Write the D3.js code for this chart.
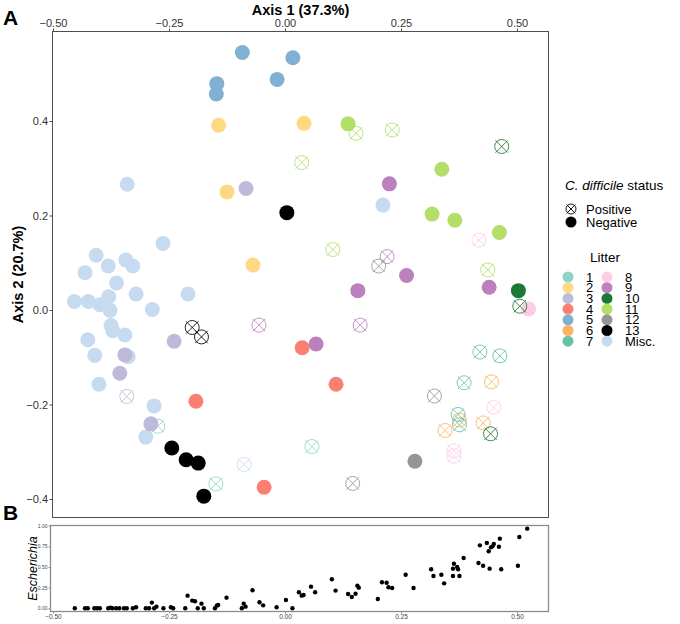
<!DOCTYPE html>
<html><head><meta charset="utf-8">
<script src="https://cdn.jsdelivr.net/npm/d3@7"></script>
<style>
body{margin:0;background:#fff}
svg{display:block}
text{font-family:"Liberation Sans",Arial,Helvetica,sans-serif}
</style>
</head><body>
<svg id="c" width="680" height="624"></svg>
<script>
// ---------- data ----------
const litterLevels = ["1","2","3","4","5","6","7","8","9","10","11","12","13","Misc."];
const litterColors = ["#8dd3c7","#fed883","#bebada","#fb8072","#80b1d3","#fdb462","#66c2a5",
                      "#fccde5","#bc80bd","#1b7837","#b3de69","#969696","#000000","#c6dbef"];
const statusLevels = ["Positive","Negative"];

const xTicks = [-0.5,-0.25,0,0.25,0.5];
const yTicksA = [-0.4,-0.2,0,0.2,0.4];
const yTicksB = [0,0.25,0.5,0.75,1];

const pcoaLitter = [
 "Misc.","Misc.","Misc.","Misc.","Misc.","Misc.","Misc.","Misc.","Misc.","Misc.",
 "Misc.","Misc.","Misc.","Misc.","Misc.","Misc.","Misc.","Misc.","Misc.","Misc.",
 "Misc.","Misc.","Misc.","Misc.","Misc.","Misc.","Misc.",
 "1","1","1",
 "2","2","2","2",
 "3","3","3","3","3","3",
 "4","4","4","4",
 "5","5","5","5","5",
 "6","6","6","6",
 "7","7","7","7","7",
 "8","8","8","8","8",
 "9","9","9","9","9","9","9","9",
 "10","10","10","10",
 "11","11","11","11","11","11","11","11","11","11",
 "12","12","12","12",
 "13","13","13","13","13","13","13"];
const pcoaStatus = [
 "N","N","N","N","N","N","N","N","N","N",
 "N","N","N","N","N","N","N","N","N","N",
 "N","N","N","N","N","N","P",
 "P","P","P",
 "N","N","N","N",
 "N","N","N","N","N","P",
 "N","N","N","N",
 "N","N","N","N","N",
 "P","P","P","P",
 "P","P","P","P","P",
 "N","P","P","P","P",
 "N","N","N","N","N","P","P","P",
 "N","P","P","P",
 "N","N","N","N","N","P","P","P","P","P",
 "N","P","P","P",
 "N","N","N","N","N","P","P"];
const pcoaAxis1 = [
 -0.340,-0.263,-0.407,-0.431,-0.381,-0.343,-0.328,-0.363,-0.380,-0.321,
 -0.209,-0.454,-0.424,-0.399,-0.377,-0.286,-0.375,-0.371,-0.345,-0.425,
 -0.410,-0.338,-0.401,-0.282,-0.300,0.211,-0.088,
 0.058,-0.149,-0.274,
 -0.143,0.041,-0.125,-0.069,
 -0.084,-0.239,-0.345,-0.356,-0.289,-0.341,
 0.037,0.110,-0.192,-0.045,
 -0.092,0.017,-0.017,-0.147,-0.148,
 0.345,0.376,0.427,0.445,
 0.420,0.463,0.386,0.373,0.376,
 0.525,0.418,0.450,0.364,0.364,
 0.225,0.262,0.157,0.440,0.067,0.220,0.162,-0.056,
 0.503,0.467,0.506,0.443,
 0.136,0.338,0.317,0.366,0.462,0.153,0.231,0.036,0.103,0.437,
 0.280,0.322,0.202,0.146,
 0.004,-0.244,-0.213,-0.187,-0.175,-0.200,-0.180];
const pcoaAxis2 = [
 0.266,0.141,0.116,0.079,0.093,0.106,0.093,0.057,0.028,0.034,
 0.034,0.018,0.018,0.011,-0.001,0.001,-0.033,-0.044,-0.053,-0.063,
 -0.096,-0.099,-0.157,-0.203,-0.269,0.222,-0.327,
 -0.289,-0.368,-0.246,
 0.391,0.395,0.250,0.095,
 0.257,-0.066,-0.095,-0.134,-0.241,-0.183,
 -0.080,-0.157,-0.193,-0.375,
 0.545,0.534,0.488,0.479,0.457,
 -0.255,-0.233,-0.239,-0.152,
 -0.089,-0.097,-0.154,-0.221,-0.243,
 0.002,0.148,-0.206,-0.298,-0.309,
 0.267,0.073,0.041,0.048,-0.072,0.113,-0.032,-0.032,
 0.041,0.346,0.008,-0.262,
 0.394,0.298,0.203,0.190,0.164,0.374,0.381,0.312,0.128,0.085,
 -0.320,-0.182,0.093,-0.367,
 0.206,-0.292,-0.317,-0.324,-0.394,-0.037,-0.057];

const escAxis1 = [
 -0.453,-0.431,-0.425,-0.411,-0.405,-0.399,-0.381,-0.376,-0.372,-0.364,
 -0.357,-0.347,-0.341,-0.328,-0.321,-0.300,-0.293,-0.287,-0.282,-0.277,
 -0.262,-0.246,-0.241,-0.215,-0.210,-0.200,-0.194,-0.188,-0.180,-0.175,
 -0.151,-0.147,-0.144,-0.126,-0.093,-0.089,-0.085,-0.070,-0.055,-0.047,
 -0.018,0.002,0.016,0.030,0.036,0.040,0.056,0.065,0.101,0.109,
 0.136,0.144,0.152,0.156,0.159,0.200,0.209,0.219,0.223,0.231,
 0.260,0.277,0.315,0.320,0.337,0.343,0.362,0.362,0.364,0.371,
 0.373,0.376,0.385,0.417,0.420,0.427,0.435,0.439,0.441,0.444,
 0.447,0.450,0.461,0.463,0.466,0.502,0.505,0.522];
const escAbundance = [
 0,0,0,0,0,0,0,0.008,0,0,
 0,0,0,0,0.012,0,0,0.069,0,0.020,
 0,0.012,0,0,0.153,0.093,0.085,0,0.056,0,
 0,0.032,0.040,0.129,0,0.056,0.020,0.218,0.073,0.036,
 0.012,0.100,0,0.194,0.153,0.161,0.262,0.194,0.351,0.214,
 0.173,0.137,0.177,0.274,0.250,0.113,0.315,0.310,0.254,0.246,
 0.407,0.246,0.472,0.391,0.407,0.302,0.480,0.391,0.540,0.500,
 0.472,0.391,0.609,0.548,0.762,0.516,0.790,0.690,0.480,0.738,
 0.750,0.778,0.746,0.843,0.472,0.516,0.863,0.964];

// ---------- drawing ----------
const svg = d3.select("#c");
const font = '"Liberation Sans",Arial,Helvetica,sans-serif';

const xA = d3.scaleLinear().domain([-0.5,0.5]).range([53,517]);
const yA = d3.scaleLinear().domain([-0.4,0.4]).range([499,121]);
const yB = d3.scaleLinear().domain([0,1]).range([608.3,525.7]);
const colour = d3.scaleOrdinal().domain(litterLevels).range(litterColors);

const A = {l:52.5, t:31.5, r:548.5, b:517.5};
const B = {l:50.5, t:525.5, r:548.5, b:611.5};

// panel labels
svg.append("text").attr("x",3).attr("y",25).attr("font-size",21).attr("font-weight","bold").text("A");
svg.append("text").attr("x",3).attr("y",520).attr("font-size",21).attr("font-weight","bold").text("B");

// Panel A frame
svg.append("rect").attr("x",A.l).attr("y",A.t).attr("width",A.r-A.l).attr("height",A.b-A.t)
  .attr("fill","none").attr("stroke","#4d4d4d").attr("stroke-width",1);

// top axis
const gx = svg.append("g").attr("transform",`translate(0,${A.t})`)
  .call(d3.axisTop(xA).tickValues(xTicks).tickSize(3).tickPadding(1.5).tickFormat(d3.format(".2f")));
gx.select(".domain").remove();
gx.selectAll("line").attr("stroke","#4d4d4d");
gx.selectAll("text").attr("font-size",11).attr("fill","#333").attr("font-family",font);

// left axis
const gy = svg.append("g").attr("transform",`translate(${A.l},0)`)
  .call(d3.axisLeft(yA).tickValues(yTicksA).tickSize(3).tickPadding(1.5).tickFormat(d3.format(".1f")));
gy.select(".domain").remove();
gy.selectAll("line").attr("stroke","#4d4d4d");
gy.selectAll("text").attr("font-size",11).attr("fill","#333").attr("font-family",font);

// axis titles
svg.append("text").attr("x",(A.l+A.r)/2).attr("y",15).attr("text-anchor","middle")
  .attr("font-size",14.5).attr("font-weight","bold").text("Axis 1 (37.3%)");
svg.append("text").attr("transform",`translate(23,${(A.t+A.b)/2}) rotate(-90)`).attr("text-anchor","middle")
  .attr("font-size",14.5).attr("font-weight","bold").text("Axis 2 (20.7%)");

// points
const rows = pcoaAxis1.map((v,i)=>({a1:v,a2:pcoaAxis2[i],litter:pcoaLitter[i],status:pcoaStatus[i]}));
const pts = svg.append("g");
function crossCircle(g, r, col, sw){
  g.append("circle").attr("r",r).attr("fill","none").attr("stroke",col).attr("stroke-width",sw);
  const k = r*0.886;
  g.append("line").attr("x1",-k).attr("y1",-k).attr("x2",k).attr("y2",k).attr("stroke",col).attr("stroke-width",sw);
  g.append("line").attr("x1",-k).attr("y1",k).attr("x2",k).attr("y2",-k).attr("stroke",col).attr("stroke-width",sw);
}
rows.forEach(d=>{
  const g = pts.append("g").attr("transform",`translate(${xA(d.a1)},${yA(d.a2)})`);
  if(d.status==="N"){
    g.append("circle").attr("r",7.5).attr("fill",colour(d.litter));
  } else {
    crossCircle(g,7,colour(d.litter),0.85);
  }
});

// legend
const lg = svg.append("g");
const t1 = lg.append("text").attr("x",565).attr("y",190).attr("font-size",13.5);
t1.append("tspan").attr("font-style","italic").text("C. difficile");
t1.append("tspan").text(" status");
crossCircle(lg.append("g").attr("transform","translate(571,209)"),5,"#000",0.9);
lg.append("circle").attr("cx",571).attr("cy",222).attr("r",5.5).attr("fill","#000");
lg.append("text").attr("x",586).attr("y",213.5).attr("font-size",13).text(statusLevels[0]);
lg.append("text").attr("x",586).attr("y",226.5).attr("font-size",13).text(statusLevels[1]);
lg.append("text").attr("x",590).attr("y",262).attr("font-size",13.5).text("Litter");
litterLevels.forEach((lv,i)=>{
  const col = i<7 ? 0 : 1, row = i%7;
  const cy = 277 + row*10.7;
  const cx = col===0 ? 568 : 607;
  lg.append("circle").attr("cx",cx).attr("cy",cy).attr("r",5.5).attr("fill",colour(lv));
  lg.append("text").attr("x",col===0?586:625).attr("y",cy+4.5).attr("font-size",13).text(lv);
});

// ---------- Panel B ----------
svg.append("rect").attr("x",B.l).attr("y",B.t).attr("width",B.r-B.l).attr("height",B.b-B.t)
  .attr("fill","none").attr("stroke","#8c8c8c").attr("stroke-width",1.3);
const bx = svg.append("g").attr("transform",`translate(0,${B.b})`)
  .call(d3.axisBottom(xA).tickValues(xTicks).tickSize(2).tickPadding(1).tickFormat(d3.format(".2f")));
bx.select(".domain").remove();
bx.selectAll("line").attr("stroke","#8c8c8c");
bx.selectAll("text").attr("font-size",6.5).attr("fill","#444").attr("font-family",font);
const by = svg.append("g").attr("transform",`translate(${B.l},0)`)
  .call(d3.axisLeft(yB).tickValues(yTicksB).tickSize(2).tickPadding(1).tickFormat(d3.format(".2f")));
by.select(".domain").remove();
by.selectAll("line").attr("stroke","#8c8c8c");
by.selectAll("text").attr("font-size",5).attr("fill","#444").attr("font-family",font);
svg.append("text").attr("transform",`translate(37,${(B.t+B.b)/2}) rotate(-90)`).attr("text-anchor","middle")
  .attr("font-size",12.5).attr("font-style","italic").text("Escherichia");
svg.append("g").selectAll("circle").data(escAxis1).join("circle")
  .attr("cx",d=>xA(d)).attr("cy",(d,i)=>yB(escAbundance[i])).attr("r",2.2).attr("fill","#000");
</script>
</body></html>
